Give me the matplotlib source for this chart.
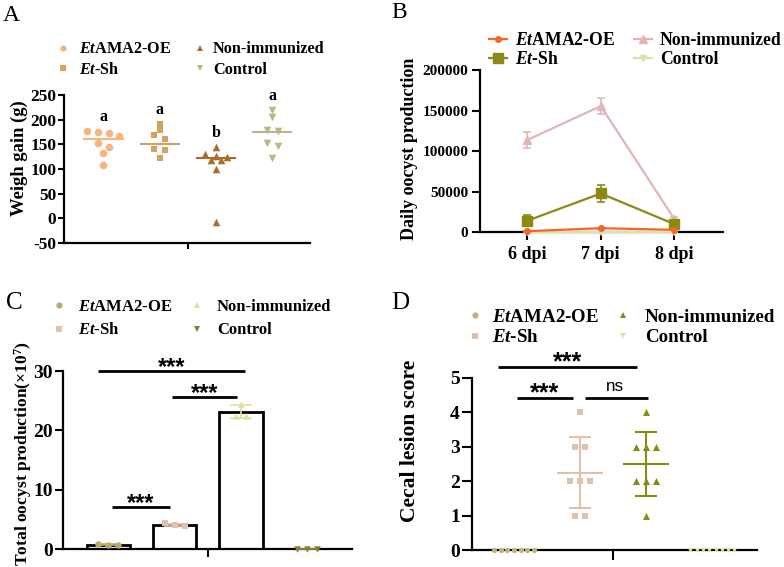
import numpy as np
import matplotlib
matplotlib.use("Agg")
import matplotlib.pyplot as plt
from matplotlib.lines import Line2D
from matplotlib.ticker import FuncFormatter

plt.rcParams['font.family'] = ['Liberation Serif', 'DejaVu Serif']
plt.rcParams['font.weight'] = 'bold'
plt.rcParams['axes.unicode_minus'] = False
plt.rcParams['mathtext.fontset'] = 'custom'
plt.rcParams['mathtext.rm'] = 'Liberation Serif:bold'
plt.rcParams['mathtext.it'] = 'Liberation Serif:italic:bold'
plt.rcParams['mathtext.bf'] = 'Liberation Serif:bold'

# ---------------- data ----------------
group_labels = [r"$\mathit{Et}$AMA2-OE", r"$\mathit{Et}$-Sh", "Non-immunized", "Control"]

# Panel A: weight gain (g)
a_oe = [175, 167, 172, 177, 145, 152, 132, 108]
a_sh = [192, 179, 161, 169, 140, 138, 122]
a_ni = [144, 130, 127, 125, 118, 118, 101, -7]
a_ctrl = [219, 205, 180, 177, 152, 146, 122]
a_center = [160, 151, 123, 174]
a_letters = ['a', 'a', 'b', 'a']

# Panel B: daily oocyst production
b_days = ['6 dpi', '7 dpi', '8 dpi']
b_oe_mean = [1600, 5300, 3300]
b_oe_sd = [500, 800, 600]
b_sh_mean = [14400, 48000, 10300]
b_sh_sd = [6800, 11000, 3000]
b_ni_mean = [113800, 155600, 16500]
b_ni_sd = [9700, 10300, 2500]
b_ctrl_mean = [0, 0, 0]
b_ctrl_sd = [0, 0, 0]

# Panel C: total oocyst production (x10^7)
c_oe = [0.65, 0.85, 0.70]
c_sh = [3.9, 4.3, 4.0]
c_ni = [24.5, 22.5, 22.5]
c_ctrl = [0, 0, 0]

# Panel D: cecal lesion score
d_oe = [0, 0, 0, 0, 0, 0, 0]
d_sh = [4, 3, 3, 2, 2, 2, 1, 1]
d_ni = [4, 3, 3, 3, 2, 2, 2, 1]
d_ctrl = [0, 0, 0, 0, 0, 0, 0, 0]

# ---------------- figure ----------------
W, H = 784, 567
fig = plt.figure(figsize=(W / 100, H / 100), dpi=100)


def px_axes(l, r, t, b):
    return fig.add_axes([l / W, 1 - b / H, (r - l) / W, (b - t) / H])


def style(ax, fs, ticklen=4):
    for s in ['top', 'right']:
        ax.spines[s].set_visible(False)
    for s in ['left', 'bottom']:
        ax.spines[s].set_linewidth(1.6)
    ax.tick_params(width=1.5, length=ticklen, labelsize=fs, pad=1.5)
    for lab in ax.get_yticklabels() + ax.get_xticklabels():
        lab.set_fontweight('bold')


def swarm(values, ppu, spacing_px, thresh_px, max_row=4):
    v = np.asarray(values, float)
    order = list(np.argsort(-v, kind='stable'))
    rows, cur = [], [order[0]]
    for i in order[1:]:
        if (v[cur[-1]] - v[i]) * ppu <= thresh_px:
            cur.append(i)
        else:
            rows.append(cur)
            cur = [i]
    rows.append(cur)
    final = []

    def split(r):
        if len(r) <= max_row:
            final.append(r)
            return
        gaps = [v[r[k]] - v[r[k + 1]] for k in range(len(r) - 1)]
        k = int(np.argmax(gaps))
        split(r[:k + 1])
        split(r[k + 1:])

    for r in rows:
        split(r)
    offs = np.zeros(len(v))
    for r in final:
        n = len(r)
        for j, idx in enumerate(r):
            offs[idx] = (j - (n - 1) / 2) * spacing_px
    return offs


def legend_col(handles, labels, mx, y1, y2, fs_pt, handle_px, text_px, row_h_factor=1.15):
    fs_px = fs_pt * 100 / 72
    left = mx - handle_px / 2
    pitch = y2 - y1
    ls = max(pitch - row_h_factor * fs_px, 0) / fs_px
    leg = fig.legend(handles, labels, loc='center left',
                     bbox_to_anchor=(left / W, 1 - (y1 + y2) / 2 / H),
                     bbox_transform=fig.transFigure, frameon=False,
                     borderpad=0, borderaxespad=0,
                     handlelength=handle_px / fs_px,
                     handletextpad=(text_px - (mx + handle_px / 2)) / fs_px,
                     labelspacing=ls, prop={'family': 'Liberation Serif', 'weight': 'bold', 'size': fs_pt})
    return leg


def star(ax, x, y, text, fs, off=0, family='Liberation Sans', weight='bold'):
    ax.annotate(text, xy=(x, y), xytext=(0, off), textcoords='offset points',
                ha='center', va='baseline', fontsize=fs, family=family,
                fontweight=weight, annotation_clip=False)


def sigline(ax, x0, x1, y):
    ax.plot([x0, x1], [y, y], color='black', lw=2.0, clip_on=False, solid_capstyle='butt')


# ---------------- Panel A ----------------
axA = px_axes(64, 310, 95, 243)
colors_A = ['#F6B57E', '#D5A25E', '#A86F2B', '#BFB486']
markers_A = ['o', 's', '^', 'v']
sizes_A = [30, 22, 30, 30]
xlimA = (-0.7, 3.67)
axA.set_xlim(*xlimA)
axA.set_ylim(-50, 250)
ppxA = (310 - 64) / (xlimA[1] - xlimA[0])
ppyA = 148 / 300
for i, vals in enumerate([a_oe, a_sh, a_ni, a_ctrl]):
    offs = swarm(vals, ppyA, 10.7, 4.2) / ppxA
    axA.scatter(i + offs, vals, s=sizes_A[i], marker=markers_A[i], color=colors_A[i],
                linewidths=0, zorder=3, clip_on=False)
    axA.plot([i - 0.34, i + 0.34], [a_center[i]] * 2, color=colors_A[i], lw=1.5, zorder=2)
    axA.text(i, max(vals) + 28, a_letters[i], ha='center', va='center', fontsize=11.5,
             fontweight='bold')
axA.set_yticks(np.arange(-50, 251, 50))
axA.set_xticks([1.5])
axA.set_xticklabels([''])
style(axA, 12.5, ticklen=4)
fig.text(19 / W, 1 - 158.5 / H, 'Weigh gain (g)', rotation=90, ha='center', va='center',
         fontsize=13.4, fontweight='bold')
hA = [Line2D([], [], ls='none', marker=markers_A[k], color=colors_A[k], ms=4.5, mew=0) for k in range(4)]
legend_col(hA[:2], group_labels[:2], 63, 48, 71, 11.7, 10, 79)
legend_col(hA[2:], group_labels[2:], 200, 48, 71, 11.7, 10, 213)
fig.text(3 / W, 1 - 5 / H, 'A', ha='left', va='top', fontsize=17, fontweight='normal')

# ---------------- Panel B ----------------
axB = px_axes(480, 723, 70, 232.5)
xB = np.arange(len(b_days))
colors_B = ['#F4672B', '#8C8A14', '#E2B6B6', '#E2DFA8']
series_B = [(b_ni_mean, b_ni_sd, 2, '^', 6), (b_sh_mean, b_sh_sd, 1, 's', 7),
            (b_ctrl_mean, b_ctrl_sd, 3, 'v', 5), (b_oe_mean, b_oe_sd, 0, 'o', 4)]
for mean, sd, ci, mk, ms in series_B:
    axB.errorbar(xB, mean, yerr=sd, color=colors_B[ci], marker=mk, ms=ms, lw=1.6,
                 elinewidth=1.2, capsize=3, capthick=1.2, clip_on=False, zorder=3)
axB.set_xlim(-0.64, 2.66)
axB.set_ylim(0, 200000)
axB.set_yticks(np.arange(0, 200001, 50000))
axB.yaxis.set_major_formatter(FuncFormatter(lambda v, p: f"{int(v)}"))
axB.set_xticks(xB)
axB.set_xticklabels(b_days)
style(axB, 11, ticklen=6)
axB.tick_params(axis='y', pad=2.5)
axB.tick_params(axis='x', labelsize=13, pad=4)
for lab in axB.get_xticklabels():
    lab.set_fontweight('bold')
fig.text(410 / W, 1 - 148.5 / H, 'Daily oocyst production', rotation=90, ha='center',
         va='center', fontsize=13, fontweight='bold')
hB = [Line2D([], [], color=colors_B[k], marker=['o', 's', '^', 'v'][k], ms=[4, 7, 6, 5][k], lw=1.6)
      for k in range(4)]
legend_col(hB[:2], group_labels[:2], 497.5, 39, 61, 12.7, 18, 515)
legend_col(hB[2:], group_labels[2:], 643, 39, 61, 12.7, 18, 660)
fig.text(391 / W, 1 - 2 / H, 'B', ha='left', va='top', fontsize=17, fontweight='normal')

# ---------------- Panel C ----------------
axC = px_axes(63, 352, 371, 549)
colors_C = ['#B9AB70', '#E3C2AF', '#E2DEA5', '#8E7E2E']
markers_C = ['o', 's', '^', 'v']
xlimC = (-0.68, 3.67)
axC.set_xlim(*xlimC)
axC.set_ylim(0, 30)
ppxC = (352 - 63) / (xlimC[1] - xlimC[0])
ppyC = 178 / 30
dataC = [c_oe, c_sh, c_ni, c_ctrl]
meansC = [np.mean(v) for v in dataC]
sdsC = [np.std(v, ddof=1) for v in dataC]
axC.bar(np.arange(4), meansC, width=0.65, facecolor='white', edgecolor='black', lw=2, zorder=2)
for i, vals in enumerate(dataC):
    axC.errorbar([i], [meansC[i]], yerr=[sdsC[i]], fmt='none', ecolor=colors_C[i], elinewidth=1.2,
                 capsize=8, capthick=1.2, zorder=3, clip_on=False)
    offs = swarm(vals, ppyC, 10, 4.2) / ppxC
    axC.scatter(i + offs, vals, s=22, marker=markers_C[i], color=colors_C[i], linewidths=0,
                zorder=4, clip_on=False)
axC.set_yticks([0, 10, 20, 30])
axC.set_xticks([1.5])
axC.set_xticklabels([''])
style(axC, 14, ticklen=6)
sigline(axC, -0.15, 2.06, 30)
star(axC, 0.955, 30, '***', 17, off=-2)
sigline(axC, 0.96, 1.94, 25.6)
star(axC, 1.45, 25.6, '***', 17, off=-2)
sigline(axC, 0.06, 0.93, 7.1)
star(axC, 0.495, 7.1, '***', 17, off=-2)
fig.text(23 / W, 1 - 453 / H, r'Total oocyst production(×10$^{7}$)', rotation=90, ha='center',
         va='center', fontsize=12.6, fontweight='bold')
hC = [Line2D([], [], ls='none', marker=markers_C[k], color=colors_C[k], ms=4.5, mew=0) for k in range(4)]
legend_col(hC[:2], group_labels[:2], 59, 305, 332, 12, 10, 78)
legend_col(hC[2:], group_labels[2:], 197, 305, 332, 12, 10, 217)
fig.text(6 / W, 1 - 292 / H, 'C', ha='left', va='top', fontsize=18, fontweight='normal')

# ---------------- Panel D ----------------
axD = px_axes(471.7, 756.7, 377.9, 550.1)
colors_D = ['#C2B07A', '#E2C1AC', '#8A8A12', '#E4E2A2']
markers_D = ['o', 's', '^', 'v']
xlimD = (-0.64, 3.67)
axD.set_xlim(*xlimD)
axD.set_ylim(0, 5)
ppxD = (756.7 - 471.7) / (xlimD[1] - xlimD[0])
ppyD = 172.2 / 5
dataD = [d_oe, d_sh, d_ni, d_ctrl]
spacingD = [6.7, 10, 10, 6.3]
sizeD = [14, 24, 26, 14]
for i, vals in enumerate(dataD):
    m = np.mean(vals)
    sd = np.std(vals, ddof=1)
    if sd > 0:
        axD.errorbar([i], [m], yerr=[sd], fmt='none', ecolor=colors_D[i], elinewidth=1.5,
                     capsize=8, capthick=1.5, zorder=2)
        axD.plot([i - 0.33, i + 0.33], [m, m], color=colors_D[i], lw=1.5, zorder=2)
    offs = swarm(vals, ppyD, spacingD[i], 1.0, max_row=10) / ppxD
    axD.scatter(i + offs, vals, s=sizeD[i], marker=markers_D[i], color=colors_D[i],
                linewidths=0, zorder=4, clip_on=False)
axD.set_yticks(np.arange(0, 6, 1))
axD.set_xticks([1.5])
axD.set_xticklabels([''])
style(axD, 14, ticklen=7)
sigline(axD, -0.24, 1.86, 5.32)
star(axD, 0.81, 5.32, '***', 18, off=-2)
sigline(axD, 0.04, 0.89, 4.43)
star(axD, 0.465, 4.43, '***', 18, off=-2)
sigline(axD, 1.08, 2.03, 4.43)
star(axD, 1.53, 4.43, 'ns', 12.3, off=5, weight='normal')
fig.text(410 / W, 1 - 440.5 / H, 'Cecal lesion score', rotation=90, ha='center', va='center',
         fontsize=15.5, fontweight='bold')
hD = [Line2D([], [], ls='none', marker=markers_D[k], color=colors_D[k], ms=4.5, mew=0) for k in range(4)]
legend_col(hD[:2], group_labels[:2], 475, 315, 340, 13.6, 10, 492)
legend_col(hD[2:], group_labels[2:], 623, 315, 340, 13.6, 10, 645)
fig.text(391 / W, 1 - 292 / H, 'D', ha='left', va='top', fontsize=18, fontweight='normal')

fig.savefig('out.png', dpi=100)
